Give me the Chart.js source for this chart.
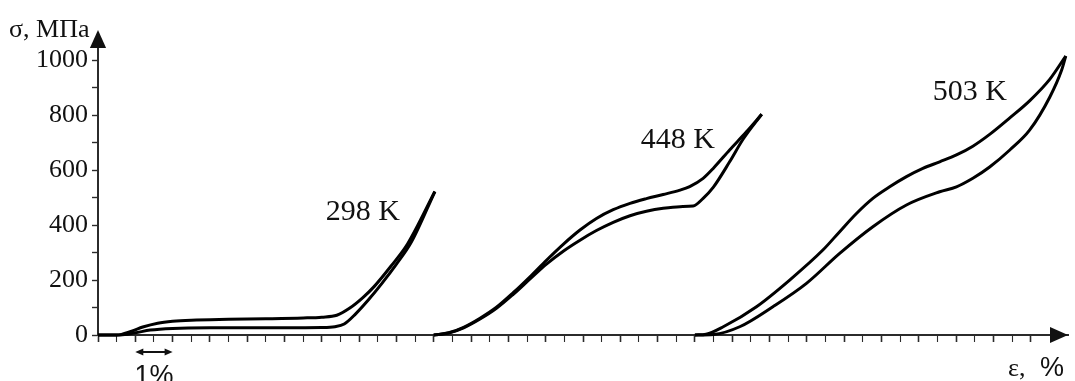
<!DOCTYPE html>
<html>
<head>
<meta charset="utf-8">
<script src="https://cdn.jsdelivr.net/npm/chart.js"></script>
<style>
    body { margin: 0; background: #ffffff; }
</style>
</head>
<body>
<canvas id="myChart" width="1075" height="381"></canvas>
<script>

// деформация, %  /  напряжение, МПа

const strain298Load = [0, 0.5, 0.9, 1.2, 1.6, 2.0, 2.5, 3.5, 4.5, 5.5, 6.0, 6.4, 6.75, 7.1, 7.4, 7.85, 8.3, 9.03];
const stress298Load = [0, 0, 14, 29, 43, 50, 54, 57, 59, 62, 65, 72, 98, 136, 176, 250, 332, 522];

const strain298Unload = [0, 0.6, 1.0, 1.4, 2.0, 3.0, 4.5, 6.0, 6.35, 6.6, 6.9, 7.25, 7.6, 8.0, 8.4, 9.03];
const stress298Unload = [0, 0, 8, 18, 24, 26, 26, 27, 30, 40, 76, 128, 186, 258, 338, 522];

const strain448Load = [9.0, 9.4, 9.8, 10.24, 10.68, 11.13, 11.58, 12.02, 12.47, 12.92, 13.36, 13.81, 14.26, 14.7, 15.15, 15.6, 15.86, 16.22, 16.49, 16.93, 17.38, 17.79];
const stress448Load = [0, 8, 28, 61, 101, 154, 212, 272, 330, 382, 424, 456, 479, 496, 511, 527, 540, 570, 606, 673, 739, 803];

const strain448Unload = [9.0, 9.4, 9.8, 10.24, 10.68, 11.13, 11.58, 12.02, 12.47, 12.92, 13.36, 13.81, 14.26, 14.7, 15.15, 15.6, 15.95, 16.22, 16.49, 16.93, 17.29, 17.79];
const stress448Unload = [0, 7, 26, 58, 97, 148, 204, 258, 305, 345, 380, 410, 434, 450, 461, 467, 469, 497, 537, 630, 712, 803];

const strain503Load = [16.0, 16.3, 16.76, 17.65, 18.54, 19.43, 19.88, 20.33, 20.77, 21.22, 21.67, 22.11, 22.56, 23.01, 23.45, 23.9, 24.44, 24.97, 25.51, 25.94];
const stress503Load = [0, 3, 30, 103, 200, 309, 376, 442, 497, 539, 576, 606, 630, 655, 687, 730, 790, 852, 930, 1015];

const strain503Unload = [16.0, 16.5, 17.2, 18.09, 18.99, 19.88, 20.77, 21.67, 22.56, 23.01, 23.45, 23.9, 24.44, 24.97, 25.51, 25.83, 25.94];
const stress503Unload = [0, 2, 30, 103, 188, 297, 394, 473, 521, 539, 570, 611, 673, 745, 865, 964, 1015];

const curveLabels = ["298 K", "448 K", "503 K"];
const labelStrain = [7.1, 15.54, 23.37];
const labelStress = [447, 709, 884];

const yTickLabels = [0, 200, 400, 600, 800, 1000];


function punti(xs, ys){

    return xs.map((x, i) => ({ x: x, y: ys[i] }));
}

function curva(xs, ys){

    return {
        data: punti(xs, ys),
        showLine: true,
        borderColor: "#000000",
        borderWidth: 3,
        pointRadius: 0,
        cubicInterpolationMode: "monotone",
        clip: false
    };
}

function freccia(ctx, x1, y1, x2, y2, size){

    const a = Math.atan2(y2 - y1, x2 - x1);

    ctx.beginPath();
    ctx.moveTo(x2, y2);
    ctx.lineTo(x2 - size * Math.cos(a) + size * 0.45 * Math.sin(a), y2 - size * Math.sin(a) - size * 0.45 * Math.cos(a));
    ctx.lineTo(x2 - size * Math.cos(a) - size * 0.45 * Math.sin(a), y2 - size * Math.sin(a) + size * 0.45 * Math.cos(a));
    ctx.closePath();
    ctx.fill();
}

const decorazioni = {

    id: "decorazioni",

    afterDraw(chart){

        const ctx = chart.ctx;
        const xs = chart.scales.x;
        const ys = chart.scales.y;
        const area = chart.chartArea;
        const x0 = xs.getPixelForValue(0);
        const y0 = ys.getPixelForValue(0);

        ctx.save();

        ctx.fillStyle = "#111111";
        ctx.strokeStyle = "#111111";

        // frecce degli assi
        freccia(ctx, x0, area.top + 10, x0, area.top - 15, 18);
        freccia(ctx, area.right - 10, y0, area.right, y0, 18);

        // etichette delle curve
        ctx.font = "30px 'Liberation Serif'";
        ctx.textAlign = "center";
        ctx.textBaseline = "middle";

        curveLabels.forEach((t, i) => {

            ctx.fillText(t, xs.getPixelForValue(labelStrain[i]), ys.getPixelForValue(labelStress[i]));
        });

        // titoli degli assi
        ctx.textBaseline = "alphabetic";
        ctx.textAlign = "left";
        ctx.font = "26px 'Liberation Serif'";
        ctx.fillText("σ, МПа", 9, 37);
        ctx.fillText("ε,", 1008, 376);

        ctx.font = "27px 'Liberation Sans'";
        ctx.fillText("%", 1040, 376);

        // scala 1%
        const a1 = xs.getPixelForValue(1);
        const a2 = xs.getPixelForValue(2);
        const ya = 352;

        ctx.lineWidth = 2;
        ctx.beginPath();
        ctx.moveTo(a1 + 4, ya);
        ctx.lineTo(a2 - 4, ya);
        ctx.stroke();

        freccia(ctx, a1 + 8, ya, a1, ya, 8);
        freccia(ctx, a2 - 8, ya, a2, ya, 8);

        ctx.textAlign = "center";
        ctx.font = "27px 'Liberation Sans'";
        ctx.fillText("1%", xs.getPixelForValue(1.5), 384);

        ctx.restore();
    }
};


const ctx = document.getElementById("myChart");

new Chart(ctx, {

    type: "scatter",

    data: {

        datasets: [
            curva(strain298Load, stress298Load),
            curva(strain298Unload, stress298Unload),
            curva(strain448Load, stress448Load),
            curva(strain448Unload, stress448Unload),
            curva(strain503Load, stress503Load),
            curva(strain503Unload, stress503Unload)
        ]
    },

    options: {

        responsive: false,
        animation: false,

        layout: {
            padding: { top: 45, right: 7, left: 0, bottom: 0 }
        },

        plugins: {
            legend: { display: false },
            tooltip: { enabled: false }
        },

        scales: {

            x: {
                type: "linear",
                min: 0,
                max: 26,
                border: { color: "#2b2b2b", width: 2 },
                grid: {
                    drawOnChartArea: false,
                    drawTicks: true,
                    tickLength: 7,
                    tickColor: (c) => (c.tick && c.tick.value > 25) ? "rgba(0,0,0,0)" : "#2b2b2b",
                    tickWidth: (c) => (c.tick && Number.isInteger(c.tick.value)) ? 1.6 : 1.1
                },
                ticks: {
                    stepSize: 0.5,
                    includeBounds: false,
                    autoSkip: false,
                    maxRotation: 0,
                    callback: () => ""
                },
                afterFit: (s) => { s.height = 46; }
            },

            y: {
                type: "linear",
                min: 0,
                max: 1055,
                border: { color: "#2b2b2b", width: 2 },
                grid: {
                    drawOnChartArea: false,
                    drawTicks: true,
                    tickLength: 6,
                    tickColor: "#2b2b2b",
                    tickWidth: 1.4
                },
                ticks: {
                    stepSize: 100,
                    includeBounds: false,
                    autoSkip: false,
                    padding: 4,
                    color: "#111111",
                    font: { family: "Liberation Serif", size: 26 },
                    callback: (v) => yTickLabels.includes(v) ? String(v) : ""
                },
                afterFit: (s) => { s.width = 98; }
            }
        }
    },

    plugins: [decorazioni]
});

</script>
</body>
</html>
